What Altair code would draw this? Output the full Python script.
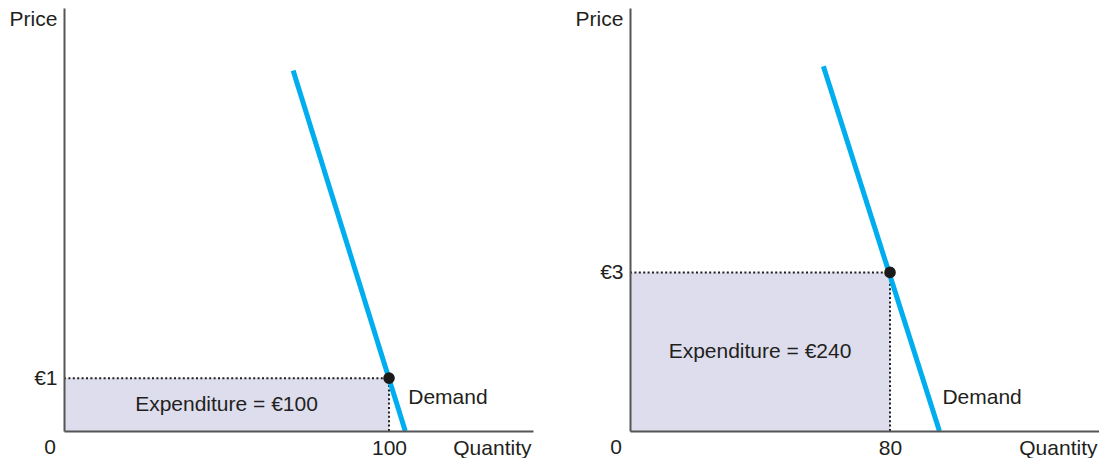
import altair as alt
import pandas as pd

# ---- data ----
eq_quantity = [100, 80]          # quantity at the marked point
eq_price = [1, 3]                # price at the marked point (€)
demand_q_top = [70.5, 59.5]      # demand line upper end (quantity)
demand_p_top = [6.82, 6.9]       # demand line upper end (price)
demand_q_bottom = [105, 95.2]    # demand line lower end (quantity, price 0)
demand_p_bottom = [0, 0]

x_domain = [0, 144.3]
y_domain = [0, 8]

FONT = "Liberation Sans"
FS = 21
TXT = "#231f20"
BLUE = "#00AEEF"
FILL = "#DDDDED"
AXC = "#555555"

PW, PH = 469, 423


def panel(i):
    q, p = eq_quantity[i], eq_price[i]
    eq_df = pd.DataFrame({
        "zero": [0], "q": [q], "p": [p],
        "label": [f"Expenditure = €{p * q:g}"],
        "origin": ["0"],
    })
    line_df = pd.DataFrame({
        "q": [demand_q_top[i], demand_q_bottom[i]],
        "p": [demand_p_top[i], demand_p_bottom[i]],
    })
    dem_df = pd.DataFrame({"q": [demand_q_bottom[i]], "p": [demand_p_bottom[i]], "t": ["Demand"]})

    xaxis = alt.Axis(
        values=[q], ticks=False, tickSize=0, grid=False, zindex=1,
        domainColor=AXC, domainWidth=2,
        labelFont=FONT, labelFontSize=FS, labelColor=TXT,
        labelBaseline="alphabetic", labelPadding=23, labelFlush=False,
        title="Quantity", titleFont=FONT, titleFontSize=FS, titleFontWeight="normal",
        titleColor=TXT, titleX=PW - 2, titleY=23, titleAlign="right",
        titleBaseline="alphabetic",
    )
    yaxis = alt.Axis(
        values=[p], labelExpr="'€' + datum.value", ticks=False, tickSize=0,
        grid=False, zindex=1, domainColor=AXC, domainWidth=2,
        labelFont=FONT, labelFontSize=FS, labelColor=TXT, labelPadding=7,
        title="Price", titleFont=FONT, titleFontSize=FS, titleFontWeight="normal",
        titleColor=TXT, titleAngle=0, titleX=-55, titleY=0, titleAlign="left",
        titleBaseline="top",
    )
    xs = alt.Scale(domain=x_domain, nice=False, zero=True)
    ys = alt.Scale(domain=y_domain, nice=False, zero=True)

    def X(f):
        return alt.X(f"{f}:Q", scale=xs, axis=xaxis)

    def Y(f):
        return alt.Y(f"{f}:Q", scale=ys, axis=yaxis)

    base = alt.Chart(eq_df)
    rect = base.mark_rect(color=FILL).encode(x=X("zero"), x2="q", y=Y("zero"), y2="p")
    hdot = base.mark_rule(color=TXT, strokeWidth=2, strokeDash=[2, 2.4]).encode(
        x=X("zero"), x2="q", y=Y("p"))
    vdot = base.mark_rule(color=TXT, strokeWidth=2, strokeDash=[2, 2.4]).encode(
        x=X("q"), y=Y("zero"), y2="p")
    line = alt.Chart(line_df).mark_line(color=BLUE, strokeWidth=5).encode(
        x=X("q"), y=Y("p"), order="p:Q")
    pt = base.mark_circle(color="#1a1a1a", size=135, opacity=1).encode(
        x=X("q"), y=Y("p"))
    exp_txt = base.transform_calculate(hq="datum.q / 2", hp="datum.p / 2").mark_text(
        font=FONT, fontSize=FS, color=TXT).encode(x=X("hq"), y=Y("hp"), text="label:N")
    dem_txt = alt.Chart(dem_df).mark_text(
        font=FONT, fontSize=FS, color=TXT, align="left", baseline="middle", dx=3, dy=-33
    ).encode(x=X("q"), y=Y("p"), text="t:N")
    origin = base.mark_text(
        font=FONT, fontSize=FS, color=TXT, align="center", baseline="alphabetic", dx=-14, dy=23
    ).encode(x=X("zero"), y=Y("zero"), text="origin:N")

    return alt.layer(rect, hdot, vdot, line, pt, exp_txt, dem_txt, origin).properties(
        width=PW, height=PH)


chart = alt.hconcat(panel(0), panel(1), spacing=42).properties(
    padding={"left": 1, "top": 0, "right": 0, "bottom": 0}
).configure_view(stroke=None)

chart.save("out.html", embed_options={"renderer": "svg", "actions": False})
